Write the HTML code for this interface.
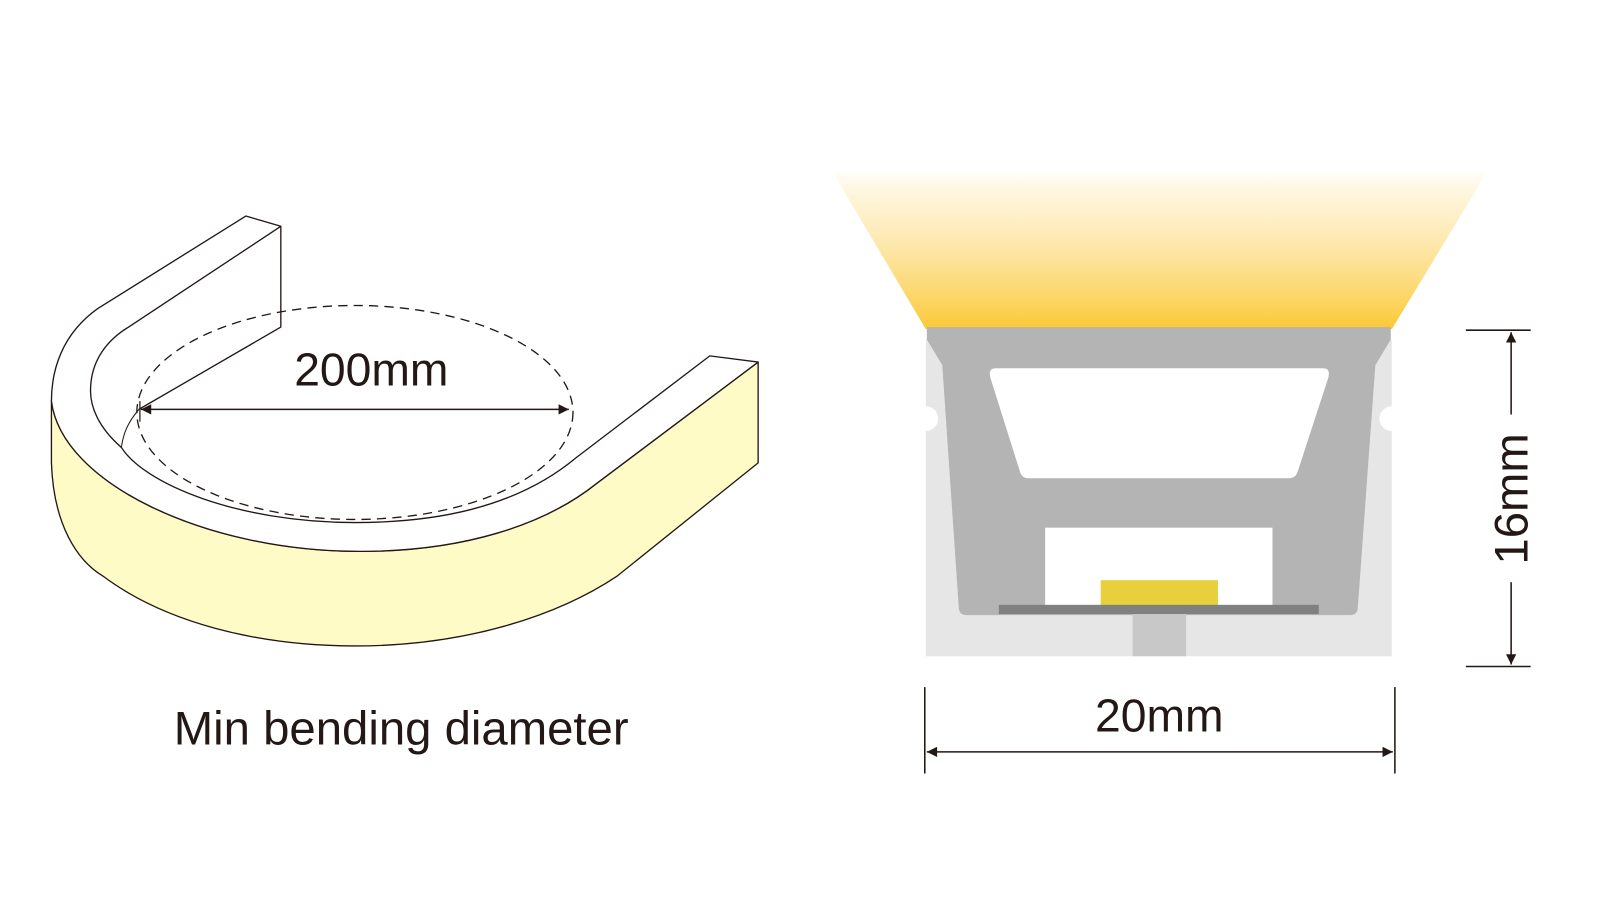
<!DOCTYPE html>
<html><head><meta charset="utf-8"><style>html,body{margin:0;padding:0;background:#fff;width:1614px;height:917px;overflow:hidden}svg{display:block}</style></head><body>
<svg width="1614" height="917" viewBox="0 0 1569 891.5" preserveAspectRatio="none" xmlns="http://www.w3.org/2000/svg">
<defs>
<linearGradient id="g" x1="0" y1="0" x2="0" y2="1">
<stop offset="0" stop-color="#FCC93A" stop-opacity="0"/>
<stop offset="0.25" stop-color="#FCD878" stop-opacity="0.35"/>
<stop offset="1" stop-color="#FBC935" stop-opacity="1"/>
</linearGradient>
<marker id="a" viewBox="0 0 10 10" refX="10" refY="5" markerWidth="18" markerHeight="10" markerUnits="userSpaceOnUse" orient="auto-start-reverse"><path d="M0,0 L10,5 L0,10 Z" fill="#231815"/></marker>
</defs>
<g stroke="#231815" stroke-width="1.3" stroke-linejoin="round">
<path d="M50,390 L50,450 C52,510 75,545 100,560 C160,605 250,628 345,628 C450,628 540,600 600,560 L737,450 L737,352 L580,470 C530,510 450,537 345,536 C200,535 60,470 50,390 Z" fill="#FFFBC6"/>
<path d="M50,390 C60,470 200,535 345,536 C450,537 530,510 580,470 L737,352 L690,346 L560,445 C500,495 420,508 345,508 C230,508 140,470 118,435 C95,415 88,395 88,380 C88,350 105,330 125,318 L273,220 L239,210 L95,300 C60,325 50,360 50,390 Z" fill="#fff"/>
<path d="M273,220 L273,318 L135,398" fill="none"/>
<path d="M135,398 C125,410 120,420 118,435" fill="none" stroke-width="1"/>
</g>
<ellipse cx="345" cy="401" rx="212" ry="104" fill="none" stroke="#231815" stroke-width="1.3" stroke-dasharray="9,6"/>
<line x1="137" y1="398" x2="553" y2="398" stroke="#231815" stroke-width="1.5" marker-start="url(#a)" marker-end="url(#a)"/>
<line x1="136" y1="390" x2="136" y2="410" stroke="#231815" stroke-width="1.2"/>
<text x="361" y="375" font-family="Liberation Sans, sans-serif" font-size="45" text-anchor="middle" fill="#231815">200mm</text>
<text x="390" y="724" font-family="Liberation Sans, sans-serif" font-size="46" text-anchor="middle" fill="#231815">Min bending diameter</text>
<polygon points="808,165 1447,165 1353,320 900,320" fill="url(#g)"/>
<path d="M900,330 L900,395 A12,12 0 0 1 900,419 L900,638 L1353,638 L1353,419 A12,12 0 0 1 1353,395 L1353,330 Z" fill="#E6E6E6"/>
<path d="M901,318 L1352,318 L1352,330 L1337,355 L1320,590 Q1320,598 1312,598 L940,598 Q932,598 932,590 L916,355 L901,330 Z" fill="#B4B4B4"/>
<path d="M968,358 L1286,358 Q1294,358 1291,368 L1261,460 Q1259,465 1252,465 L1000,465 Q994,465 992,460 L963,368 Q960,358 968,358 Z" fill="#fff"/>
<rect x="1016" y="513" width="221" height="76" fill="#fff"/>
<rect x="1070" y="564" width="114" height="25" fill="#E8CF3C"/>
<rect x="971" y="588" width="311" height="9" fill="#808080"/>
<rect x="1101" y="597" width="52" height="41" fill="#C8C8C8"/>
<g stroke="#231815" stroke-width="1.5">
<line x1="1425" y1="321" x2="1488" y2="321"/>
<line x1="1425" y1="648" x2="1488" y2="648"/>
<line x1="1469" y1="403" x2="1469" y2="323" marker-end="url(#a)"/>
<line x1="1469" y1="566" x2="1469" y2="646" marker-end="url(#a)"/>
<line x1="899" y1="668" x2="899" y2="752"/>
<line x1="1356" y1="668" x2="1356" y2="752"/>
<line x1="901" y1="731" x2="1354" y2="731" marker-start="url(#a)" marker-end="url(#a)"/>
</g>
<text transform="translate(1485,485) rotate(-90)" font-family="Liberation Sans, sans-serif" font-size="46" text-anchor="middle" fill="#231815">16mm</text>
<text x="1127" y="711" font-family="Liberation Sans, sans-serif" font-size="45" text-anchor="middle" fill="#231815">20mm</text>
</svg>
</body></html>
